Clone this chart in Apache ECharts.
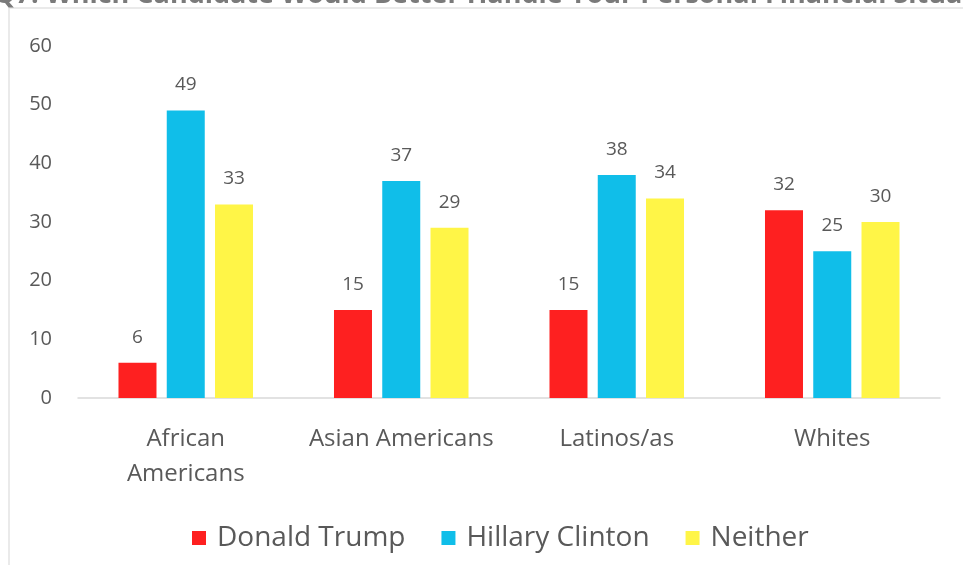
<!DOCTYPE html>
<html>
<head>
<meta charset="utf-8">
<script src="https://cdn.jsdelivr.net/npm/echarts@6/dist/echarts.min.js"></script>
<style>
	html, body {margin: 0; padding: 0; background: #fff;}
	#chart {width: 963px; height: 565px;}
</style>
</head>
<body>
<div id="chart"></div>
<script>
var categories = ['African\nAmericans', 'Asian Americans', 'Latinos/as', 'Whites'];
var trump = [6, 15, 15, 32];
var clinton = [49, 37, 38, 25];
var neither = [33, 29, 34, 30];
var y_ticks = [0, 10, 20, 30, 40, 50, 60];

var font = '"Open Sans", "Noto Sans", sans-serif';
var myChart = echarts.init(document.getElementById('chart'));

function bar_series(name, data, color){
	return {
		name: name, type: 'bar', data: data, barWidth: 38, barGap: '27%',
		itemStyle: {color: color},
		label: {show: true, position: 'top', distance: 16, color: '#595959', fontSize: 19, fontFamily: font}
	};
}

var options = {
	animation: false,
	backgroundColor: '#fff',
	graphic: [
		{type: 'rect', shape: {x: 9, y: 8, width: 1000, height: 600}, style: {fill: 'none', stroke: '#e3e3e3', lineWidth: 1.5}, z: -1},
		{type: 'text', left: -6, top: -18, style: {text: 'Q7: Which Candidate Would Better Handle Your Personal Financial Situation?', fontSize: 27, fontWeight: 'bold', fill: '#7a7a7a', fontFamily: font}}
	],
	legend: {
		bottom: 8, left: 187, itemWidth: 14, itemHeight: 14, itemGap: 36, icon: 'rect',
		textStyle: {fontSize: 28, color: '#595959', fontFamily: font, padding: [0, 0, 0, 6]},
		data: ['Donald Trump', 'Hillary Clinton', 'Neither']
	},
	grid: {left: 78, right: 23, top: 46, bottom: 167, containLabel: false},
	xAxis: {
		type: 'category', data: categories,
		axisLine: {lineStyle: {color: '#d9d9d9', width: 1.5}},
		axisTick: {show: false},
		axisLabel: {interval: 0, hideOverlap: false, fontSize: 24, color: '#595959', fontFamily: font, margin: 24, lineHeight: 35}
	},
	yAxis: {
		type: 'value', min: y_ticks[0], max: y_ticks[y_ticks.length - 1], interval: 10,
		splitLine: {show: false}, axisLine: {show: false}, axisTick: {show: false},
		axisLabel: {fontSize: 20, color: '#595959', fontFamily: font, margin: 26}
	},
	series: [
		bar_series('Donald Trump', trump, '#FE2020'),
		bar_series('Hillary Clinton', clinton, '#10BEE9'),
		bar_series('Neither', neither, '#FFF547')
	]
};

myChart.setOption(options, true);
</script>
</body>
</html>
